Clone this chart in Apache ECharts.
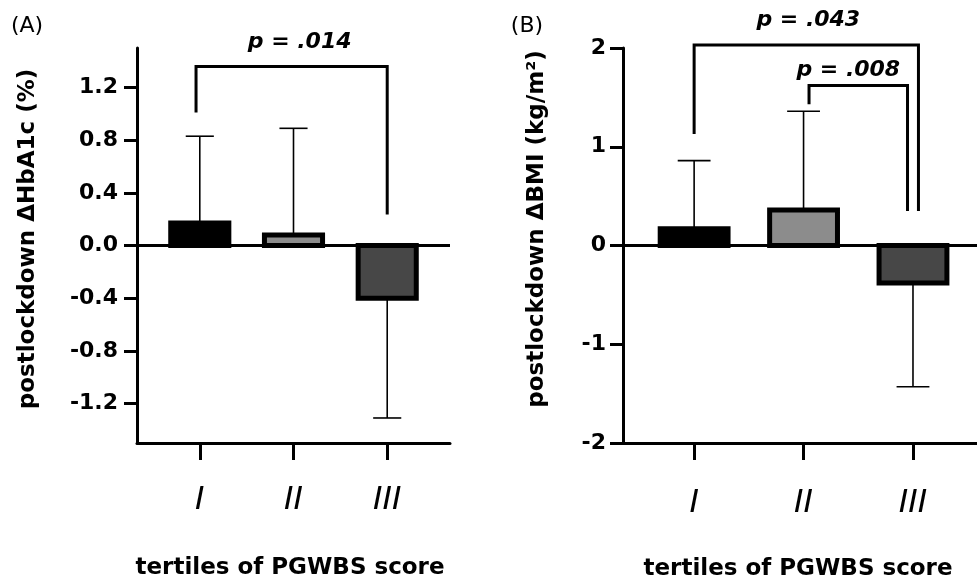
<!DOCTYPE html>
<html>
<head>
<meta charset="utf-8">
<script src="https://cdn.jsdelivr.net/npm/echarts@6/dist/echarts.min.js"></script>
<style>
html,body{margin:0;padding:0;background:#fff;}
#chart{width:977px;height:581px;}
</style>
</head>
<body>
<div id="chart"></div>
<script>
// ---- data ----
const categories = ['I', 'II', 'III'];
const hba1cMean = [0.17, 0.08, -0.40];
const hba1cErrEnd = [0.83, 0.89, -1.31];
const bmiMean = [0.17, 0.36, -0.38];
const bmiErrEnd = [0.86, 1.36, -1.43];
const hba1cTicks = [-1.2, -0.8, -0.4, 0, 0.4, 0.8, 1.2];
const bmiTicks = [-2, -1, 0, 1, 2];
const barColors = ['#000000', '#8c8c8c', '#474747'];
// brackets: [fromX, toX, topY, leftLegEndY, rightLegEndY, label]
const bracketsA = [[0.96, 3, 1.36, 1.01, 0.235, 'p = .014']];
const bracketsB = [[1, 3.05, 2.03, 1.13, 0.35, 'p = .043'], [2.05, 2.95, 1.62, 1.43, 0.35, 'p = .008']];

// ---- rendering helpers ----
const FONT = '"DejaVu Sans", "Liberation Sans", Arial, sans-serif';
const labelOffsets = {'p = .014': [8, -24], 'p = .043': [2, -25], 'p = .008': [-10, -15]};

function barData(means) { return means.map((m, i) => [i + 1, m, i]); }
function errData(means, ends) { return means.map((m, i) => [i + 1, m, ends[i]]); }

function renderBar(params, api) {
  const x = api.value(0), y = api.value(1), idx = api.value(2);
  const p0 = api.coord([x, 0]);
  const p1 = api.coord([x, y]);
  const w = api.size([1, 0])[0] * 0.62;
  return {
    type: 'rect',
    shape: {x: p0[0] - w / 2, y: Math.min(p0[1], p1[1]), width: w, height: Math.abs(p1[1] - p0[1])},
    style: {fill: barColors[idx], stroke: '#000', lineWidth: 5}
  };
}
function renderErr(params, api) {
  const x = api.value(0);
  const p0 = api.coord([x, api.value(1)]);
  const p1 = api.coord([x, api.value(2)]);
  const cw = api.size([1, 0])[0] * 0.3;
  const st = {stroke: '#000', lineWidth: 1.6, fill: null};
  return {type: 'group', children: [
    {type: 'line', shape: {x1: p0[0], y1: p0[1], x2: p1[0], y2: p1[1]}, style: st},
    {type: 'line', shape: {x1: p1[0] - cw / 2, y1: p1[1], x2: p1[0] + cw / 2, y2: p1[1]}, style: st}
  ]};
}
function renderZero(params, api) {
  const cs = params.coordSys;
  const y = api.coord([1, 0])[1];
  return {type: 'line', shape: {x1: cs.x, y1: y, x2: cs.x + cs.width, y2: y}, style: {stroke: '#000', lineWidth: 3}};
}
function renderBracket(params, api) {
  const a = api.coord([api.value(0), api.value(3)]);
  const b = api.coord([api.value(0), api.value(2)]);
  const c = api.coord([api.value(1), api.value(2)]);
  const d = api.coord([api.value(1), api.value(4)]);
  const txt = params.context.labels[params.dataIndex];
  const off = labelOffsets[txt] || [0, -24];
  return {type: 'group', children: [
    {type: 'polyline', shape: {points: [a, b, c, d]}, style: {stroke: '#000', lineWidth: 3, fill: null}},
    {type: 'text', x: (b[0] + c[0]) / 2 + off[0], y: b[1] + off[1],
     style: {text: txt, font: 'italic bold 22px ' + FONT, fill: '#000', align: 'center', verticalAlign: 'middle'}}
  ]};
}
function bracketSeries(brackets, gi) {
  return {
    type: 'custom', xAxisIndex: gi, yAxisIndex: gi, clip: false, z: 5,
    data: brackets.map(b => b.slice(0, 5)),
    renderItem: function (params, api) {
      params.context.labels = brackets.map(b => b[5]);
      return renderBracket(params, api);
    }
  };
}

function xAxisFor(gi, min, max, margin) {
  return {
    type: 'value', gridIndex: gi, min: min, max: max,
    axisLine: {show: true, onZero: false, lineStyle: {color: '#000', width: 3}},
    axisTick: {show: true, length: 17, lineStyle: {color: '#000', width: 3}, customValues: [1, 2, 3]},
    axisLabel: {customValues: [1, 2, 3], formatter: v => categories[Math.round(v) - 1] || '',
      fontFamily: FONT, fontStyle: 'italic', fontSize: 32, color: '#000', margin: margin, verticalAlign: 'middle'},
    splitLine: {show: false}
  };
}
function yAxisFor(gi, min, max, ticks, fmt, margin) {
  return {
    type: 'value', gridIndex: gi, min: min, max: max,
    axisLine: {show: true, lineStyle: {color: '#000', width: 3}},
    axisTick: {show: true, length: 13, lineStyle: {color: '#000', width: 3}, customValues: ticks},
    axisLabel: {customValues: ticks, formatter: fmt, fontFamily: FONT, fontWeight: 'bold', fontSize: 22, color: '#000', margin: margin},
    splitLine: {show: false}
  };
}

const chart = echarts.init(document.getElementById('chart'), null, {renderer: 'canvas'});
chart.setOption({
  animation: false,
  backgroundColor: '#fff',
  grid: [
    {left: 137, top: 48, width: 313, height: 395},
    {left: 623, top: 48, width: 354, height: 395}
  ],
  xAxis: [xAxisFor(0, 0.33, 3.67, 58), xAxisFor(1, 0.35, 3.585, 61)],
  yAxis: [
    yAxisFor(0, -1.5, 1.5, hba1cTicks, v => v.toFixed(1), 19),
    yAxisFor(1, -2, 2, bmiTicks, v => String(v), 17)
  ],
  series: [
    {type: 'custom', xAxisIndex: 0, yAxisIndex: 0, z: 2, data: errData(hba1cMean, hba1cErrEnd), renderItem: renderErr},
    {type: 'custom', xAxisIndex: 0, yAxisIndex: 0, z: 3, data: barData(hba1cMean), renderItem: renderBar},
    {type: 'custom', xAxisIndex: 0, yAxisIndex: 0, z: 4, data: [[1, 0]], renderItem: renderZero},
    bracketSeries(bracketsA, 0),
    {type: 'custom', xAxisIndex: 1, yAxisIndex: 1, z: 2, data: errData(bmiMean, bmiErrEnd), renderItem: renderErr},
    {type: 'custom', xAxisIndex: 1, yAxisIndex: 1, z: 3, data: barData(bmiMean), renderItem: renderBar},
    {type: 'custom', xAxisIndex: 1, yAxisIndex: 1, z: 4, data: [[1, 0]], renderItem: renderZero},
    bracketSeries(bracketsB, 1)
  ],
  graphic: [
    {type: 'text', x: 27, y: 26, style: {text: '(A)', font: '22px ' + FONT, fill: '#000', align: 'center', verticalAlign: 'middle'}},
    {type: 'text', x: 527, y: 26, style: {text: '(B)', font: '22px ' + FONT, fill: '#000', align: 'center', verticalAlign: 'middle'}},
    {type: 'text', x: 28, y: 239, rotation: Math.PI / 2, style: {text: 'postlockdown \u0394HbA1c (%)', font: 'bold 23px ' + FONT, fill: '#000', align: 'center', verticalAlign: 'middle'}},
    {type: 'text', x: 537, y: 229, rotation: Math.PI / 2, style: {text: 'postlockdown \u0394BMI (kg/m\u00B2)', font: 'bold 23px ' + FONT, fill: '#000', align: 'center', verticalAlign: 'middle'}},
    {type: 'text', x: 290, y: 568, style: {text: 'tertiles of PGWBS score', font: 'bold 23px ' + FONT, fill: '#000', align: 'center', verticalAlign: 'middle'}},
    {type: 'text', x: 798, y: 569, style: {text: 'tertiles of PGWBS score', font: 'bold 23px ' + FONT, fill: '#000', align: 'center', verticalAlign: 'middle'}}
  ]
});
</script>
</body>
</html>
